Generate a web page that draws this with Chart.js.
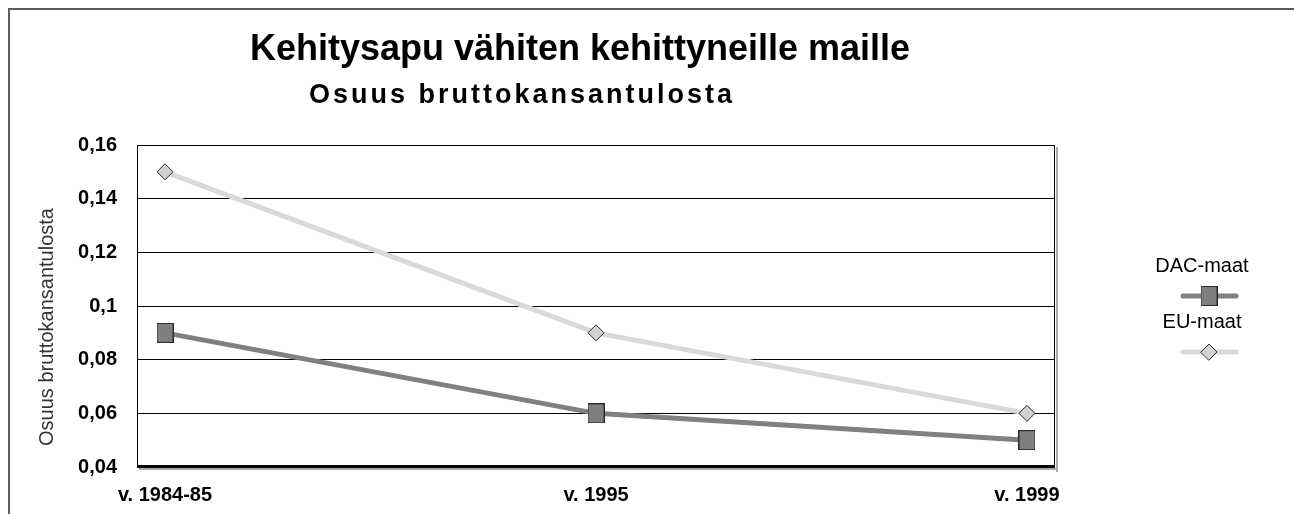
<!DOCTYPE html>
<html><head><meta charset="utf-8">
<script src="https://cdn.jsdelivr.net/npm/chart.js@4.4.1/dist/chart.umd.min.js"></script>
<style>html,body{margin:0;padding:0;background:#fff}#wrap{width:1294px;height:514px;position:relative}canvas{display:block}</style>
</head><body><div id="wrap"><canvas id="c" width="1294" height="514"></canvas></div>
<script>
const categories = ['v. 1984-85', 'v. 1995', 'v. 1999'];
const seriesNames = ['DAC-maat', 'EU-maat'];
const dacValues = [0.09, 0.06, 0.05];
const euValues = [0.15, 0.09, 0.06];
const yTickValues = [0.04, 0.06, 0.08, 0.10, 0.12, 0.14, 0.16];
const yTickLabels = ['0,04', '0,06', '0,08', '0,1', '0,12', '0,14', '0,16'];
const chartTitle = 'Kehitysapu vähiten kehittyneille maille';
const chartSubtitle = 'Osuus bruttokansantulosta';
const yAxisTitle = 'Osuus bruttokansantulosta';

const FONT = "'Liberation Sans', Arial, sans-serif";
const DAC_LINE = '#808080', DAC_FILL = '#7f7f7f';
const EU_LINE = '#d9d9d9', EU_FILL = '#d2d2d2';
const MARK_BORDER = '#2a2a2a';

function rectMarker(w, h, fill, stroke) {
  const c = document.createElement('canvas');
  c.width = w; c.height = h;
  const g = c.getContext('2d');
  g.fillStyle = fill; g.fillRect(0, 0, w, h);
  g.strokeStyle = stroke; g.lineWidth = 1;
  g.strokeRect(0.5, 0.5, w - 1, h - 1);
  return c;
}
const dacMarker = rectMarker(17, 20, DAC_FILL, MARK_BORDER);

function diamond(ctx, x, y, s, fill, stroke) {
  ctx.fillStyle = fill;
  ctx.strokeStyle = stroke;
  ctx.lineWidth = 1;
  ctx.beginPath();
  ctx.moveTo(x - s, y); ctx.lineTo(x, y - s); ctx.lineTo(x + s, y); ctx.lineTo(x, y + s);
  ctx.closePath(); ctx.fill(); ctx.stroke();
}

const decor = {
  id: 'decor',
  beforeDraw(chart) {
    const ctx = chart.ctx;
    ctx.save();
    ctx.fillStyle = '#fff';
    ctx.fillRect(0, 0, chart.width, chart.height);
    ctx.strokeStyle = '#5c5c5c';
    ctx.lineWidth = 2;
    ctx.beginPath();
    ctx.moveTo(9, chart.height); ctx.lineTo(9, 9); ctx.lineTo(chart.width, 9);
    ctx.stroke();
    ctx.restore();
  },
  beforeDatasetsDraw(chart) {
    const ctx = chart.ctx, a = chart.chartArea;
    ctx.save();
    ctx.fillStyle = '#a8a8a8';
    ctx.fillRect(a.right + 1, a.top + 2, 2, a.bottom - a.top + 3);
    ctx.fillRect(a.left + 2, a.bottom + 1, a.right - a.left + 1, 2);
    ctx.strokeStyle = '#000';
    ctx.lineWidth = 1;
    ctx.beginPath();
    ctx.moveTo(a.left + 0.5, a.bottom); ctx.lineTo(a.left + 0.5, a.top + 0.5);
    ctx.lineTo(a.right - 0.5, a.top + 0.5); ctx.lineTo(a.right - 0.5, a.bottom);
    ctx.stroke();
    ctx.fillStyle = '#000';
    ctx.fillRect(a.left, a.bottom - 2, a.right - a.left, 3);
    ctx.restore();
  },
  afterDraw(chart) {
    const ctx = chart.ctx;
    ctx.save();
    ctx.fillStyle = '#000';
    ctx.textAlign = 'center';
    ctx.textBaseline = 'alphabetic';
    ctx.font = 'bold 36px ' + FONT;
    ctx.fillText(chartTitle, 580, 60);
    ctx.font = 'bold 27px ' + FONT;
    ctx.letterSpacing = '3px';
    ctx.fillText(chartSubtitle, 522, 103);
    ctx.letterSpacing = '0px';
    // y axis title
    ctx.save();
    ctx.translate(47, 327);
    ctx.rotate(-Math.PI / 2);
    ctx.textBaseline = 'middle';
    ctx.fillStyle = '#333';
    ctx.font = '20px ' + FONT;
    ctx.fillText(yAxisTitle, 0, 0);
    ctx.restore();
    // legend
    const ds = chart.data.datasets;
    const rows = [{ty: 272, ly: 296}, {ty: 328, ly: 352}];
    ds.forEach((d, i) => {
      const r = rows[i];
      ctx.fillStyle = '#000';
      ctx.font = '20px ' + FONT;
      ctx.textAlign = 'center';
      ctx.fillText(d.label, 1202, r.ty);
      ctx.strokeStyle = d.borderColor;
      ctx.lineWidth = 5;
      ctx.lineCap = 'round';
      ctx.beginPath(); ctx.moveTo(1183, r.ly); ctx.lineTo(1236, r.ly); ctx.stroke();
      if (d.pointStyle === 'rectRot') {
        diamond(ctx, 1209, r.ly, d.pointRadius, d.pointBackgroundColor, d.pointBorderColor);
      } else {
        ctx.drawImage(d.pointStyle, 1209 - d.pointStyle.width / 2, r.ly - d.pointStyle.height / 2);
      }
    });
    ctx.restore();
  }
};

new Chart(document.getElementById('c'), {
  type: 'line',
  data: {
    datasets: [
      {
        label: seriesNames[0],
        data: dacValues.map((v, i) => ({x: i, y: v})),
        borderColor: DAC_LINE, borderWidth: 5,
        pointStyle: dacMarker, pointRadius: 10,
        pointBackgroundColor: DAC_FILL, pointBorderColor: MARK_BORDER,
        tension: 0, clip: false
      },
      {
        label: seriesNames[1],
        data: euValues.map((v, i) => ({x: i, y: v})),
        borderColor: EU_LINE, borderWidth: 5,
        pointStyle: 'rectRot', pointRadius: 8, pointBorderWidth: 1,
        pointBackgroundColor: EU_FILL, pointBorderColor: MARK_BORDER,
        tension: 0, clip: false
      }
    ]
  },
  options: {
    responsive: false,
    animation: false,
    devicePixelRatio: 1,
    layout: {padding: {left: 0, top: 145, right: 239, bottom: 0}},
    plugins: {legend: {display: false}, tooltip: {enabled: false}, title: {display: false}},
    scales: {
      x: {
        type: 'linear', min: -0.065, max: 2.065,
        afterBuildTicks: s => { s.ticks = categories.map((_, i) => ({value: i})); },
        afterFit: s => { s.height = 47; },
        ticks: {
          callback: v => categories[v],
          color: '#000', font: {family: FONT, size: 20, weight: 'bold'},
          padding: 16, maxRotation: 0, autoSkip: false
        },
        grid: {display: false, drawTicks: false},
        border: {display: false}
      },
      y: {
        type: 'linear', min: 0.04, max: 0.16,
        afterBuildTicks: s => { s.ticks = yTickValues.map(v => ({value: v})); },
        afterFit: s => { s.width = 137; },
        ticks: {
          callback: (v, i) => yTickLabels[i],
          color: '#000', font: {family: FONT, size: 20, weight: 'bold'},
          padding: 20
        },
        grid: {color: '#000', lineWidth: 1, drawTicks: false},
        border: {display: false}
      }
    }
  },
  plugins: [decor]
});
</script>
</body></html>
